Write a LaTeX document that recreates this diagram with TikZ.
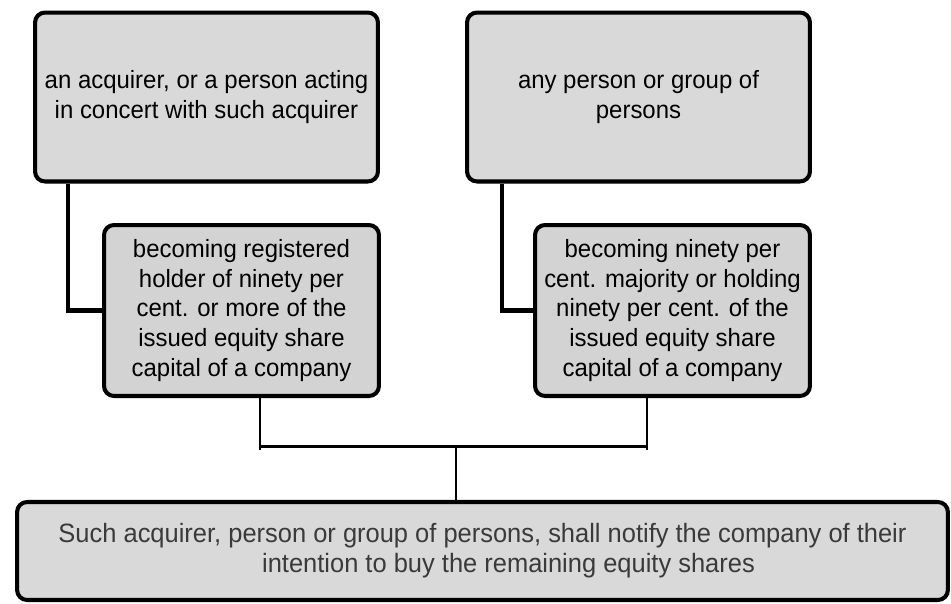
\documentclass[tikz,border=0pt]{standalone}
\usepackage{fontspec}
\setmainfont[FakeStretch=0.96]{Liberation Sans}
\definecolor{boxgray}{HTML}{D9D9D9}
\definecolor{subgray}{HTML}{D3D3D3}
\definecolor{txtgray}{HTML}{3A3A3A}
\tikzset{
    box/.style={rectangle,rounded corners=0.2cm,draw=black,line width=2.3pt,fill=boxgray,align=center,inner sep=0pt,
                font=\fontsize{14.2}{17}\selectfont},
    subbox/.style={box,fill=subgray},
    wide/.style={box,font=\fontsize{15.1}{17}\selectfont,text=txtgray},
    link/.style={-,line width=2.3pt,draw=black},
    bar/.style={-,line width=1.7pt,draw=black},
}
\begin{document}
\begin{tikzpicture}[x=0.02cm,y=-0.02cm]
\useasboundingbox (0,0) rectangle (951,603);
\node[box,minimum width=6.86cm,minimum height=3.38cm] (1) at (206.5,97) {an acquirer, or a person acting\\in concert with such acquirer};
\node[box,minimum width=6.86cm,minimum height=3.38cm] (2) at (638.5,97) {any person or group of\\persons};
\node[subbox,minimum width=5.5cm,minimum height=3.42cm] (3) at (241.5,310.5) {becoming registered\\holder of ninety per\\cent. or more of the\\issued equity share\\capital of a company};
\node[subbox,minimum width=5.5cm,minimum height=3.42cm] (4) at (672.5,310.5) {becoming ninety per\\cent. majority or holding\\ninety per cent. of the\\issued equity share\\capital of a company};
\node[wide,minimum width=18.62cm,minimum height=1.96cm] (5) at (482.5,551) {Such acquirer, person or group of persons, shall notify the company of their\\\hspace*{1.04cm}intention to buy the remaining equity shares};
\coordinate (l) at (260,450);
\coordinate (r) at (647,450);
\coordinate (m) at (456,446);
\draw[link] ([xshift=0.7cm]1.south west) |- (3.west);
\draw[link] ([xshift=0.74cm]2.south west) |- (4.west);
\draw[bar] (3.south -| l) -- (l);
\draw[bar] (4.south -| r) -- (r);
\draw[bar] (l |- m) -- (r |- m);
\draw[bar] (m) -- (5.north -| m);
\end{tikzpicture}
\end{document}
